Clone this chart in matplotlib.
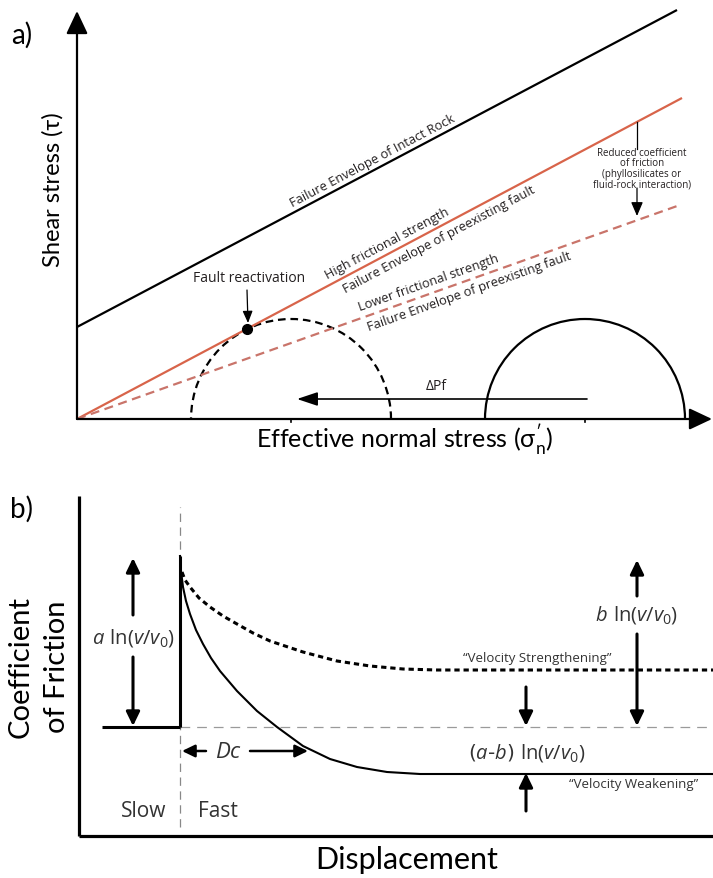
import matplotlib
matplotlib.use('Agg')
import matplotlib.pyplot as plt
import numpy as np
from matplotlib.patches import Arc

plt.rcParams['mathtext.fontset'] = 'custom'
plt.rcParams['mathtext.rm'] = 'Open Sans'
plt.rcParams['mathtext.it'] = 'Open Sans:italic'
plt.rcParams['mathtext.bf'] = 'Open Sans:bold'
plt.rcParams['lines.scale_dashes'] = False

W, H, DPI = 713, 879, 100

# ---------------- Panel a data (schematic stress units) ----------------
intact_sigma = [0, 600]
intact_tau = [92, 409]
high_sigma = [0, 605]
high_tau = [0, 321]
low_sigma = [0, 603]
low_tau = [0, 214]
mohr_centers = [214, 508]
mohr_radii = [100, 100]
mohr_styles = ['dashed', 'solid']
fault_point = [170, 90]
dpf_from = [510, 20]
dpf_to = [220, 20]
tau_axis_top = 408
sigma_axis_end = 635

# ---------------- Panel b data (schematic) ----------------
slow_disp = [23, 101]
slow_mu = [109, 109]
step_disp = [101, 101]
step_mu = [109, 280]
weak_disp = [101, 102, 104, 107, 111, 117, 124, 132, 141, 158, 178, 198, 224, 251, 278, 308, 341, 634]
weak_mu = [280, 265, 249, 235, 222, 206, 192, 178, 165, 145, 125, 109, 90, 77, 69, 64, 62, 62]
strong_disp = [103, 106, 111, 120, 131, 144, 158, 174, 191, 224, 258, 291, 324, 358, 634]
strong_mu = [264, 256, 249, 238, 229, 220, 212, 203, 195, 184, 175, 170, 167, 166, 166]
ref_level = 109
step_x = 101

RED = '#d8644a'
RED_D = '#c9746a'
TXT = '#231f20'
TXT_B = '#333333'

fig = plt.figure(figsize=(W / DPI, H / DPI), dpi=DPI)


def ftext(x, y, s, **kw):
    fig.text(x / W, 1 - y / H, s, **kw)


def line_label(ax, xs, ys, t, d, s, **kw):
    x0, x1 = xs
    y0, y1 = ys
    ang = np.arctan2(y1 - y0, x1 - x0)
    px = x0 + t * (x1 - x0)
    py = y0 + t * (y1 - y0)
    ax.text(px - d * np.sin(ang), py + d * np.cos(ang), s, rotation=np.degrees(ang),
            rotation_mode='anchor', ha='center', va='center', **kw)


# ================= Panel a =================
axa = fig.add_axes([77 / W, 1 - 420 / H, 636 / W, 415 / H])
axa.set_xlim(0, 636)
axa.set_ylim(0, 415)
axa.axis('off')

axa.annotate('', xy=(0, tau_axis_top), xytext=(0, 0),
             arrowprops=dict(arrowstyle='-|>,head_length=0.7,head_width=0.33', lw=1.6,
                             color='k', mutation_scale=20, shrinkA=0, shrinkB=0),
             annotation_clip=False)
axa.annotate('', xy=(sigma_axis_end, 0), xytext=(0, 0),
             arrowprops=dict(arrowstyle='-|>,head_length=0.7,head_width=0.33', lw=1.6,
                             color='k', mutation_scale=20, shrinkA=0, shrinkB=0),
             annotation_clip=False)

axa.plot(intact_sigma, intact_tau, color='k', lw=1.6, solid_capstyle='butt', clip_on=False)
axa.plot(high_sigma, high_tau, color=RED, lw=1.6, solid_capstyle='butt', clip_on=False)
axa.plot(low_sigma, low_tau, color=RED_D, lw=1.6, linestyle=(0, (6.5, 4)), clip_on=False)

for c, r, st in zip(mohr_centers, mohr_radii, mohr_styles):
    ls = (0, (5.5, 3.5)) if st == 'dashed' else '-'
    axa.add_patch(Arc((c, 0), 2 * r, 2 * r, theta1=0, theta2=180, color='k',
                      lw=1.6, linestyle=ls, clip_on=False))
    axa.plot([c, c], [0, -3], color='k', lw=1.2, clip_on=False)

axa.plot([fault_point[0]], [fault_point[1]], 'o', color='k', ms=7, clip_on=False)
axa.annotate('', xy=(fault_point[0] + 1, fault_point[1] + 6), xytext=(fault_point[0], fault_point[1] + 39),
             arrowprops=dict(arrowstyle='-|>,head_length=0.6,head_width=0.25', lw=0.9,
                             color='k', mutation_scale=12, shrinkA=0, shrinkB=0))
axa.text(fault_point[0] + 2, fault_point[1] + 51, 'Fault reactivation', ha='center', va='center',
         fontsize=10, family='Open Sans', color=TXT)

axa.annotate('', xy=dpf_to, xytext=dpf_from,
             arrowprops=dict(arrowstyle='-|>,head_length=0.9,head_width=0.3', lw=1.2,
                             color='k', mutation_scale=14, shrinkA=0, shrinkB=0))
axa.text(359, 33, 'ΔPf', ha='center', va='center', fontsize=10, family='Open Sans', color=TXT)

fs = 9.3
line_label(axa, intact_sigma, intact_tau, 0.5, 9, 'Failure Envelope of Intact Rock',
           fontsize=fs, family='Open Sans', color=TXT)
line_label(axa, high_sigma, high_tau, 0.52, 10, 'High frictional strength',
           fontsize=fs, family='Open Sans', color=TXT)
line_label(axa, high_sigma, high_tau, 0.59, -10.5, 'Failure Envelope of preexisting fault',
           fontsize=fs, family='Open Sans', color=TXT)
line_label(axa, low_sigma, low_tau, 0.59, 11.5, 'Lower frictional strength',
           fontsize=fs, family='Open Sans', color=TXT)
line_label(axa, low_sigma, low_tau, 0.645, -10, 'Failure Envelope of preexisting fault',
           fontsize=fs, family='Open Sans', color=TXT)

axa.plot([560, 560], [297, 270], color='k', lw=0.9)
axa.annotate('', xy=(560, 203), xytext=(560, 231),
             arrowprops=dict(arrowstyle='-|>,head_length=0.7,head_width=0.3', lw=0.9,
                             color='k', mutation_scale=12, shrinkA=0, shrinkB=0))
axa.text(565, 251, 'Reduced coefficient\nof friction\n(phyllosilicates or\nfluid-rock interaction)',
         ha='center', va='center', fontsize=7, family='Open Sans', color=TXT, linespacing=0.95)

ftext(22, 35, 'a)', fontsize=20, family='Lato', ha='center', va='center')
ftext(53, 190, 'Shear stress (τ)', fontsize=17, family=['Lato', 'DejaVu Sans'], rotation=90,
      ha='center', va='center')
ftext(405, 440, r'Effective normal stress ($\mathregular{\sigma_n^{\prime}}$)', fontsize=18,
      family=['Lato', 'DejaVu Sans'], ha='center', va='center')

# ================= Panel b =================
axb = fig.add_axes([79 / W, 1 - 837 / H, 634 / W, 357 / H])
axb.set_xlim(0, 634)
axb.set_ylim(0, 357)
axb.axis('off')

axb.plot([0, 0], [0, 340], color='k', lw=2.3, clip_on=False, solid_capstyle='butt')
axb.plot([0, 634], [0, 0], color='k', lw=2.3, clip_on=False, solid_capstyle='butt')

axb.plot([step_x, step_x], [9, 329], color='#888888', lw=0.9, linestyle=(0, (6, 4)))
axb.plot([step_x, 634], [ref_level, ref_level], color='#9a9a9a', lw=0.9, linestyle=(0, (7, 5)))

axb.plot(slow_disp, slow_mu, color='k', lw=2.2, solid_capstyle='butt')
axb.plot(step_disp, step_mu, color='k', lw=2.2, solid_capstyle='butt')
axb.plot(weak_disp, weak_mu, color='k', lw=1.5, solid_joinstyle='round')
axb.plot(strong_disp, strong_mu, color='k', lw=2.2, linestyle=(0, (3.8, 2.8)))


def thick_arrow(ax, start, tip):
    ax.annotate('', xy=tip, xytext=start,
                arrowprops=dict(arrowstyle='-|>,head_length=0.7,head_width=0.34', lw=2.2,
                                color='k', mutation_scale=12, shrinkA=0, shrinkB=0),
                annotation_clip=False)


lnv = r'$\mathrm{ln}(\mathit{v}/\mathit{v}_{0})$'
thick_arrow(axb, (54, 221), (54, 278))
thick_arrow(axb, (54, 179), (54, 110))
axb.text(54, 199, r'$\mathit{a}$ ' + lnv, ha='center', va='center', fontsize=14.5, color=TXT_B)
thick_arrow(axb, (558, 240), (558, 276))
thick_arrow(axb, (558, 202), (558, 110))
axb.text(558, 222, r'$\mathit{b}$ ' + lnv, ha='center', va='center', fontsize=14.5, color=TXT_B)
thick_arrow(axb, (447, 149), (447, 110))
thick_arrow(axb, (447, 25), (447, 63))
axb.text(448, 84, r'($\mathit{a}$-$\mathit{b}$) ' + lnv, ha='center', va='center', fontsize=14.5,
         color=TXT_B)
axb.annotate('', xy=(103, 85), xytext=(127, 85),
             arrowprops=dict(arrowstyle='-|>,head_length=0.7,head_width=0.34', lw=1.8,
                             color='k', mutation_scale=11, shrinkA=0, shrinkB=0))
axb.annotate('', xy=(229, 85), xytext=(171, 85),
             arrowprops=dict(arrowstyle='-|>,head_length=0.7,head_width=0.34', lw=1.8,
                             color='k', mutation_scale=11, shrinkA=0, shrinkB=0))
axb.text(150, 85, r'$\mathit{D}\mathit{c}$', ha='center', va='center', fontsize=16, color=TXT_B)

axb.text(65, 25, 'Slow', ha='center', va='center', fontsize=15, family='Open Sans', color=TXT_B)
axb.text(139, 25, 'Fast', ha='center', va='center', fontsize=15, family='Open Sans', color=TXT_B)
axb.text(458, 178, '“Velocity Strengthening”', ha='center', va='center', fontsize=9.5,
         family='Open Sans', color=TXT_B)
axb.text(555, 52, '“Velocity Weakening”', ha='center', va='center', fontsize=9.5,
         family='Open Sans', color=TXT_B)

ftext(22, 509, 'b)', fontsize=20, family='Lato', ha='center', va='center')
ftext(21, 667, 'Coefficient', fontsize=21, family='Lato', rotation=90, ha='center', va='center')
ftext(57, 667, 'of Friction', fontsize=21, family='Lato', rotation=90, ha='center', va='center')
ftext(407, 860, 'Displacement', fontsize=22, family='Lato', ha='center', va='center')

fig.savefig('out.png', dpi=DPI)
